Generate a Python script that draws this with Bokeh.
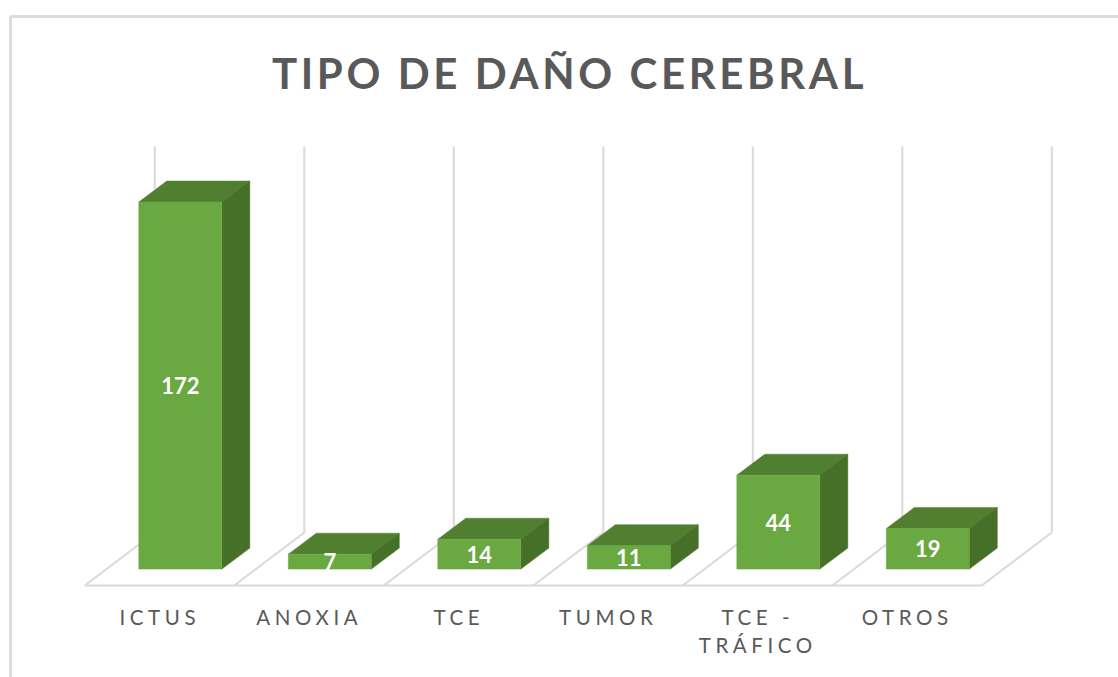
from bokeh.plotting import figure
from bokeh.models import LinearAxis, FixedTicker, ColumnDataSource, CustomJS
from bokeh.core.properties import value
from bokeh.io import curdoc
from bokeh.embed import file_html
from bokeh.resources import INLINE

title = "TIPO DE DAÑO CEREBRAL"
categories = ["ICTUS", "ANOXIA", "TCE", "TUMOR", "TCE -\nTRÁFICO", "OTROS"]
values = [172, 7, 14, 11, 44, 19]

FRONT, TOP, SIDE = "#6aa842", "#50802f", "#466f27"
GRID, TEXT = "#d9d9d9", "#595959"
W, H, MARGIN = 1118, 677, 0
SLOT = 149.5           # px per category
PX_UNIT = 2.134        # px per value unit
X0, Y0 = 159.3, 568.6  # page position of category 0, value 0

def ux(px): return px / SLOT
def uy(px): return px / PX_UNIT
def page_x(px): return (px - X0) / SLOT
def page_y(px): return (Y0 - px) / PX_UNIT

p = figure(width=W, height=H, output_backend="svg", toolbar_location=None,
           x_range=(page_x(MARGIN), page_x(MARGIN + W)),
           y_range=(page_y(MARGIN + H), page_y(MARGIN)),
           min_border=0, outline_line_color=None, background_fill_color="white",
           x_axis_type=None, y_axis_type=None)
p.grid.visible = False

# chart frame
p.segment(x0=[page_x(10), page_x(10)], y0=[page_y(16), page_y(16)],
          x1=[page_x(1118), page_x(10)], y1=[page_y(16), page_y(677)],
          line_color="#dcdcdc", line_width=3)

# floor and back wall
n = len(categories)
corners = [i - 0.5 - ux(0.25) for i in range(n + 1)]
DX, DY = ux(70), uy(53)
floor_y, wall_top = page_y(585), page_y(146)
p.segment(x0=[corners[0]], y0=[floor_y], x1=[corners[-1]], y1=[floor_y],
          line_color=GRID, line_width=2)
p.segment(x0=corners, y0=[floor_y] * (n + 1),
          x1=[c + DX for c in corners], y1=[floor_y + DY] * (n + 1),
          line_color=GRID, line_width=2)
p.segment(x0=[c + DX for c in corners], y0=[floor_y + DY] * (n + 1),
          x1=[c + DX for c in corners], y1=[wall_top] * (n + 1),
          line_color=GRID, line_width=2)

# 3D bars
OFF, BW, dx, dy = ux(20.5), ux(83), ux(28), uy(21)
front_x, front_y, top_x, top_y, side_x, side_y = [], [], [], [], [], []
centers = []
for i, v in enumerate(values):
    l = i + OFF - BW / 2
    r = i + OFF + BW / 2
    centers.append(i + OFF)
    front_x.append([l, r, r, l]); front_y.append([0, 0, v, v])
    top_x.append([l, r, r + dx, l + dx]); top_y.append([v, v, v + dy, v + dy])
    side_x.append([r, r + dx, r + dx, r]); side_y.append([0, dy, v + dy, v])
p.patches(top_x, top_y, fill_color=TOP, line_color=TOP, line_width=0.5)
p.patches(side_x, side_y, fill_color=SIDE, line_color=SIDE, line_width=0.5)
p.patches(front_x, front_y, fill_color=FRONT, line_color=FRONT, line_width=0.5)

# data labels
src = ColumnDataSource(dict(x=centers, y=[v / 2 for v in values], t=[str(v) for v in values]))
p.text(x="x", y="y", text="t", source=src, text_color="white", text_font=value("Lato"),
       text_font_style="bold", text_font_size="22px", text_align="center", text_baseline="middle")

# title
p.text(x=[page_x(569)], y=[page_y(72)], text=[title], text_color=TEXT, text_font=value("Lato"),
       text_font_style="bold", text_font_size="42px", text_align="center", text_baseline="middle")

# category axis
axis = LinearAxis(fixed_location=floor_y, ticker=FixedTicker(ticks=list(range(n))),
                  major_label_overrides={i: c for i, c in enumerate(categories)},
                  axis_line_color=None, major_tick_line_color=None, minor_tick_line_color=None,
                  major_label_text_color=TEXT, major_label_text_font="Lato",
                  major_label_text_font_size="20.5px", major_label_standoff=13)
p.add_layout(axis, "below")

# letter spacing for the SVG texts, which Bokeh has no property for;
# Bokeh anchors them on their left end, so half the added width is taken off x
spacing = CustomJS(code="""
const done = new WeakSet();
const sizes = {'42px': 3.6, '20.5px': 4.6};
const apply = (root) => {
  root.querySelectorAll('*').forEach((el) => {
    if (el.shadowRoot) apply(el.shadowRoot);
    if (el.tagName === 'text' && !done.has(el)) {
      const size = el.getAttribute('font-size') || el.style.fontSize;
      const s = sizes[size];
      if (s) {
        el.style.letterSpacing = s + 'px';
        const x = parseFloat(el.getAttribute('x') || '0');
        el.setAttribute('x', x - el.textContent.length * s / 2);
        done.add(el);
      }
    }
  });
};
let count = 0;
const timer = setInterval(() => {
  apply(document);
  if (++count > 40) clearInterval(timer);
}, 50);
""")
curdoc().add_root(p)
curdoc().js_on_event("document_ready", spacing)

open("out.html", "w").write(file_html(p, INLINE))
